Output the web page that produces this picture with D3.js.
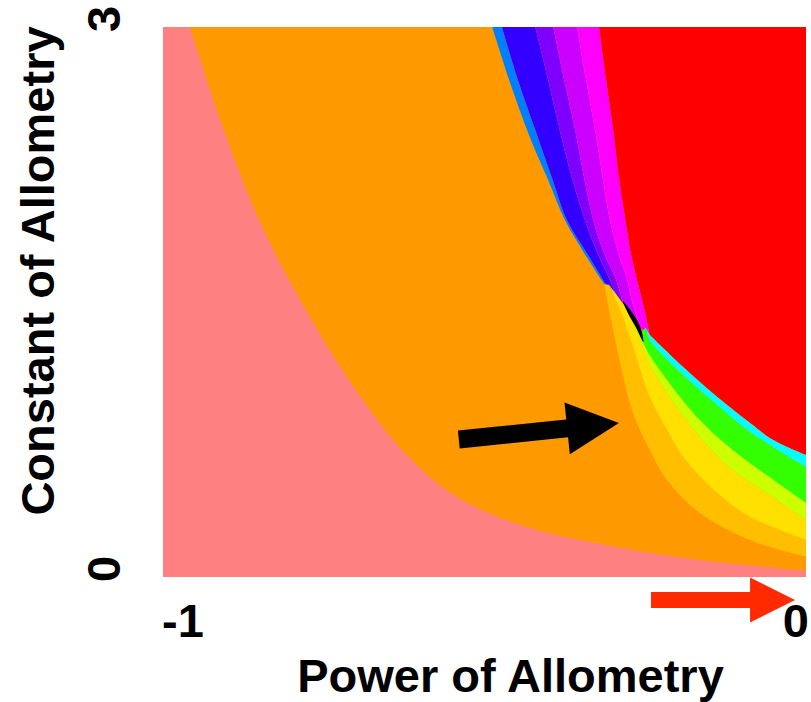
<!DOCTYPE html>
<html>
<head>
<meta charset="utf-8">
<script src="https://cdn.jsdelivr.net/npm/d3@7"></script>
<style>
  body { margin: 0; background: #fff; }
  text { font-family: "Liberation Sans", Arial, sans-serif; font-weight: bold; fill: #000; }
</style>
</head>
<body>
<div id="chart"></div>
<script>
// region boundaries, points are [power, constant]
const pinkOrange = [[-0.958, 3.0], [-0.908, 2.465], [-0.849, 1.936], [-0.767, 1.391], [-0.689, 0.965],
  [-0.621, 0.665], [-0.543, 0.436], [-0.429, 0.267], [-0.320, 0.180], [-0.212, 0.115], [-0.110, 0.071], [0, 0.035]];

// upper fan (top edge down to the meeting point)
const orangeLightBlue = [[-0.488, 3.0], [-0.459, 2.684], [-0.429, 2.395], [-0.401, 2.165], [-0.375, 1.947],
  [-0.348, 1.784], [-0.311, 1.582]];
const lightBlueBlue = [[-0.473, 3.0], [-0.448, 2.711], [-0.421, 2.438], [-0.395, 2.176], [-0.372, 1.947],
  [-0.339, 1.756], [-0.305, 1.560]];
const bluePurple = [[-0.421, 3.0], [-0.401, 2.711], [-0.383, 2.438], [-0.364, 2.176], [-0.344, 1.947],
  [-0.323, 1.756], [-0.305, 1.620], [-0.295, 1.533]];
const purpleViolet = [[-0.393, 3.0], [-0.376, 2.711], [-0.359, 2.438], [-0.345, 2.176], [-0.331, 1.947],
  [-0.313, 1.756], [-0.295, 1.620], [-0.283, 1.467]];
const violetMagenta = [[-0.356, 3.0], [-0.342, 2.711], [-0.328, 2.438], [-0.316, 2.176], [-0.305, 1.947],
  [-0.291, 1.756], [-0.278, 1.620], [-0.271, 1.511], [-0.258, 1.358]];
const magentaRed = [[-0.322, 3.0], [-0.311, 2.711], [-0.300, 2.438], [-0.291, 2.176], [-0.281, 1.947],
  [-0.272, 1.756], [-0.263, 1.620], [-0.253, 1.484], [-0.243, 1.320]];

// lower fan (meeting point out to the right edge)
const orangeLightOrange = [[-0.314, 1.598], [-0.303, 1.402], [-0.289, 1.167], [-0.269, 0.895], [-0.243, 0.693],
  [-0.216, 0.529], [-0.165, 0.349], [-0.087, 0.202], [0, 0.109]];
const lightOrangeYellow = [[-0.306, 1.593], [-0.286, 1.429], [-0.269, 1.255], [-0.243, 0.982], [-0.216, 0.802],
  [-0.191, 0.655], [-0.138, 0.458], [-0.087, 0.327], [0, 0.202]];
const yellowYellowGreen = [[-0.282, 1.480], [-0.263, 1.336], [-0.243, 1.156], [-0.216, 1.004], [-0.165, 0.764],
  [-0.114, 0.584], [-0.061, 0.458], [0, 0.311]];
const yellowGreenGreen = [[-0.260, 1.331], [-0.243, 1.211], [-0.216, 1.075], [-0.165, 0.856], [-0.114, 0.693],
  [-0.061, 0.556], [0, 0.404]];
const greenCyan = [[-0.249, 1.360], [-0.243, 1.293], [-0.191, 1.102], [-0.138, 0.938], [-0.087, 0.791], [0, 0.600]];
const cyanRed = [[-0.243, 1.320], [-0.191, 1.145], [-0.138, 0.982], [-0.087, 0.840], [-0.051, 0.747], [0, 0.665]];

const blackSliver = [[-0.285, 1.505], [-0.271, 1.445], [-0.257, 1.358], [-0.253, 1.282], [-0.264, 1.358], [-0.277, 1.440]];

// arrows: [tail, tip]
const blackArrow = [[-0.540, 0.750], [-0.291, 0.840]];
const redArrow = [[-0.241, -0.125], [-0.017, -0.125]];

const powerTicks = [-1, 0];
const constantTicks = [0, 3];

const colors = {
  pink: "#ff8080", orange: "#ff9900", red: "#ff0000",
  lightBlue: "#0080ff", blue: "#3300ff", purple: "#8000ff", violet: "#cc00ff", magenta: "#ff00ff",
  lightOrange: "#ffbf00", yellow: "#ffe000", yellowGreen: "#ccff00", green: "#33ff00", cyan: "#00ffff"
};

const upperBands = [
  [orangeLightBlue, lightBlueBlue, colors.lightBlue],
  [lightBlueBlue, bluePurple, colors.blue],
  [bluePurple, purpleViolet, colors.purple],
  [purpleViolet, violetMagenta, colors.violet],
  [violetMagenta, magentaRed, colors.magenta]
];
const lowerBands = [
  [orangeLightOrange, lightOrangeYellow, colors.lightOrange],
  [lightOrangeYellow, yellowYellowGreen, colors.yellow],
  [yellowYellowGreen, yellowGreenGreen, colors.yellowGreen],
  [yellowGreenGreen, greenCyan, colors.green],
  [greenCyan, cyanRed, colors.cyan]
];

const margin = { top: 27, right: 5, bottom: 125, left: 163 };
const width = 811 - margin.left - margin.right;
const height = 702 - margin.top - margin.bottom;

const svg = d3.select("#chart")
  .append("svg")
  .attr("width", width + margin.left + margin.right)
  .attr("height", height + margin.top + margin.bottom)
  .append("g")
  .attr("transform", `translate(${margin.left},${margin.top})`);

const x = d3.scaleLinear().domain([-1, 0]).range([0, width]);
const y = d3.scaleLinear().domain([0, 3]).range([height, 0]);

const line = d3.line()
  .x(d => x(d[0]))
  .y(d => y(d[1]))
  .curve(d3.curveCatmullRom.alpha(0.5));

const join = (a, b) => line(a) + line(b).replace(/^M/, "L");
const band = (a, b) => join(a, b.slice().reverse()) + "Z";

svg.append("clipPath")
  .attr("id", "plot-clip")
  .append("rect")
  .attr("width", width)
  .attr("height", height);

const plot = svg.append("g").attr("clip-path", "url(#plot-clip)");

plot.append("rect")
  .attr("width", width)
  .attr("height", height)
  .attr("fill", colors.pink);

// orange: everything right of the pink curve
plot.append("path")
  .attr("d", line(pinkOrange) + `L${x(0.05)},${y(0.035)}L${x(0.05)},${y(3.1)}L${x(-0.958)},${y(3.1)}Z`)
  .attr("fill", colors.orange);

// red: right of the magenta edge and above the cyan edge
plot.append("path")
  .attr("d", join(magentaRed, cyanRed) + `L${x(0.05)},${y(0.665)}L${x(0.05)},${y(3.1)}L${x(-0.322)},${y(3.1)}Z`)
  .attr("fill", colors.red);

plot.selectAll(".upper")
  .data(upperBands)
  .enter()
  .append("path")
  .attr("class", "upper")
  .attr("d", d => band(d[0], d[1]))
  .attr("fill", d => d[2]);

plot.selectAll(".lower")
  .data(lowerBands)
  .enter()
  .append("path")
  .attr("class", "lower")
  .attr("d", d => band(d[0], d[1]))
  .attr("fill", d => d[2]);

plot.append("path")
  .attr("d", d3.line().x(d => x(d[0])).y(d => y(d[1])).curve(d3.curveCatmullRomClosed)(blackSliver))
  .attr("fill", "#000");

function arrowPoints([tail, tip], shaft, headLen, headHalf) {
  const x0 = x(tail[0]), y0 = y(tail[1]), x1 = x(tip[0]), y1 = y(tip[1]);
  const len = Math.hypot(x1 - x0, y1 - y0);
  const ux = (x1 - x0) / len, uy = (y1 - y0) / len;
  const nx = -uy, ny = ux;
  const bx = x1 - ux * headLen, by = y1 - uy * headLen;
  return [
    [x0 + nx * shaft, y0 + ny * shaft],
    [bx + nx * shaft, by + ny * shaft],
    [bx + nx * headHalf, by + ny * headHalf],
    [x1, y1],
    [bx - nx * headHalf, by - ny * headHalf],
    [bx - nx * shaft, by - ny * shaft],
    [x0 - nx * shaft, y0 - ny * shaft]
  ].join(" ");
}

svg.append("polygon")
  .attr("points", arrowPoints(blackArrow, 9, 52, 26))
  .attr("fill", "#000");

svg.append("polygon")
  .attr("points", arrowPoints(redArrow, 8, 45, 22.5))
  .attr("fill", "#ff2a00");

// axis labels
svg.selectAll(".xtick")
  .data(powerTicks)
  .enter()
  .append("text")
  .attr("class", "xtick")
  .attr("x", d => d === 0 ? x(d) + 3 : x(d) - 1)
  .attr("y", height + 60)
  .attr("text-anchor", d => d === 0 ? "end" : "start")
  .style("font-size", "47px")
  .text(d => d);

svg.selectAll(".ytick")
  .data(constantTicks)
  .enter()
  .append("text")
  .attr("class", "ytick")
  .attr("transform", d => `translate(-43,${y(d) + 5}) rotate(-90)`)
  .attr("text-anchor", "start")
  .style("font-size", "47px")
  .text(d => d);

svg.append("text")
  .attr("x", width / 2 + 26)
  .attr("y", height + 115)
  .attr("text-anchor", "middle")
  .style("font-size", "47px")
  .text("Power of Allometry");

svg.append("text")
  .attr("transform", `translate(-109,${height / 2 - 31}) rotate(-90)`)
  .attr("text-anchor", "middle")
  .style("font-size", "47px")
  .text("Constant of Allometry");
</script>
</body>
</html>
